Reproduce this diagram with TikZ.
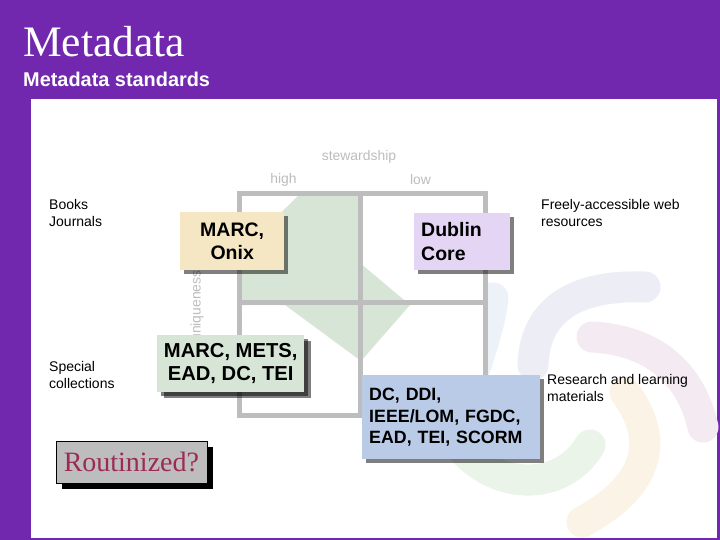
\documentclass[tikz,border=0pt]{standalone}
\usepackage{fontspec}
\setmainfont{Liberation Sans}
\newfontfamily\serifface{Liberation Serif}
\usepackage{xcolor}
\usepackage{tikz}
\usetikzlibrary{shadows}
\definecolor{slidepurple}{HTML}{7228AE}
\definecolor{axisgrey}{HTML}{BDBDBD}
\definecolor{areagreen}{HTML}{D7E5D6}
\definecolor{marcfill}{HTML}{F5E6C4}
\definecolor{dublinfill}{HTML}{E3D5F3}
\definecolor{dcfill}{HTML}{BACBE8}
\definecolor{routtext}{HTML}{9C2A55}
\definecolor{swirlblue}{HTML}{EDF1F8}
\definecolor{swirllav}{HTML}{EDEDF6}
\definecolor{swirlpink}{HTML}{F4EAF2}
\definecolor{swirlorange}{HTML}{FBF3E6}
\definecolor{swirlgreen}{HTML}{EBF4E9}
\tikzset{
  note/.style={align=left, anchor=north west, inner sep=0pt, text depth=0pt, font=\fontsize{14}{17}\selectfont},
  axislabel/.style={text=axisgrey, inner sep=0pt, font=\fontsize{13.9}{16}\selectfont},
  std/.style={anchor=north west, inner sep=0pt, font=\fontsize{19.5}{23.5}\selectfont\bfseries,
    drop shadow={shadow xshift=4pt, shadow yshift=-4pt, fill=black, opacity=0.5}},
  swirl/.style={line width=31pt, line cap=round},
}
\begin{document}
\begin{tikzpicture}[x=1pt,y=-1pt]
  \useasboundingbox (0,0) rectangle (720,540);
  \fill[slidepurple] (0,0) rectangle (720,540);
  \fill[white] (31,99) rectangle (717,538);
  % swirl behind the chart
  \draw[swirl, color=swirlblue] (493,298) .. controls (489,330) and (480,350) .. (470,385);
  \draw[swirl, color=swirllav] (645,287) .. controls (590,285) and (535,300) .. (533,365);
  \draw[swirl, color=swirlpink] (592,337) .. controls (650,340) and (690,370) .. (703,427);
  \draw[swirl, color=swirlorange] (625,392) .. controls (660,440) and (650,485) .. (582,522);
  \draw[swirl, color=swirlgreen] (590,445) .. controls (560,495) and (490,490) .. (455,440);
  % chart
  \fill[white] (239,193) rectangle (486,415);
  \fill[areagreen] (301,193) -- (360,193) -- (360,263) -- (410,305) -- (361,361) -- (285,305)
    -- (240,305) -- (240,253) -- cycle;
  \draw[axisgrey, line width=4.8pt] (239.5,193.5) rectangle (485.5,415.5);
  \draw[axisgrey, line width=4.8pt] (360.5,193.5) -- (360.5,415.5);
  \draw[axisgrey, line width=4.8pt] (239.5,302.5) -- (485.5,302.5);
  % texts
  \node[anchor=north west, inner sep=0pt, text=white, font=\fontsize{43.5}{44}\selectfont\serifface] (title) at (23,26) {Metadata};
  \node[anchor=north west, inner sep=0pt, text=white, font=\fontsize{19.9}{20}\selectfont\bfseries] (subtitle) at (23,72) {Metadata standards};
  \node[axislabel] (stew) at (359,157) {stewardship};
  \node[axislabel] (high) at (283.5,180) {high};
  \node[axislabel] (low) at (420.5,180) {low};
  \node[axislabel, rotate=90] (uniq) at (197,306) {uniqueness};
  \node[note] (books) at (49,199.5) {Books\\Journals};
  \node[note] (special) at (49,361.5) {Special\\collections};
  \node[note] (free) at (541,199.5) {Freely-accessible web\\resources};
  \node[note] (research) at (547,374) {Research and learning\\materials};
  % standards boxes
  \node[std, fill=marcfill, minimum width=104pt, minimum height=58pt, align=center] (marc) at (180,212) {MARC,\\Onix};
  \node[std, fill=dublinfill, minimum width=96pt, minimum height=57pt, text width=82pt, align=left] (dublin) at (414,213) {Dublin\\Core};
  \node[std, fill=areagreen, minimum width=147pt, minimum height=57pt, align=center,
    font=\fontsize{20.2}{23.5}\selectfont\bfseries,
    drop shadow={shadow xshift=7pt, shadow yshift=-6pt, fill=black, opacity=0.5}] (mets) at (157,335) {MARC, METS,\\EAD, DC, TEI};
  \node[std, fill=dcfill, minimum width=178pt, minimum height=84pt, text width=164pt, align=left,
    font=\fontsize{17.8}{21.3}\selectfont\bfseries] (dc) at (362,375) {DC, DDI,\\IEEE/LOM, FGDC,\\EAD, TEI, SCORM\\[15pt]};
  \node[anchor=north west, draw=black, line width=0.8pt, fill=axisgrey, text=routtext, minimum width=151pt, minimum height=42pt, inner sep=0pt,
    font=\fontsize{28}{28}\selectfont\serifface,
    drop shadow={shadow xshift=6pt, shadow yshift=-6pt, fill=black, opacity=1}] (rout) at (55.5,440.5) {Routinized?};
\end{tikzpicture}
\end{document}
